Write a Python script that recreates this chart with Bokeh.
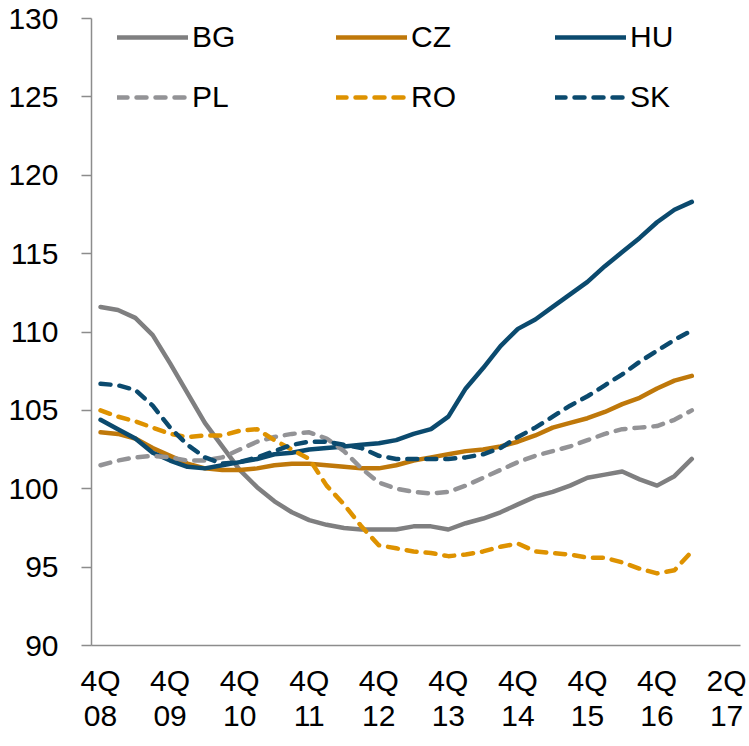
from bokeh.plotting import figure
from bokeh.models import FixedTicker, Legend, LegendItem, Range1d, LinearAxis
from bokeh.embed import file_html
from bokeh.resources import INLINE

# ---- data (quarterly index, 4Q08 .. 2Q17) ----
quarters = ["4Q08", "1Q09", "2Q09", "3Q09", "4Q09", "1Q10", "2Q10", "3Q10", "4Q10",
            "1Q11", "2Q11", "3Q11", "4Q11", "1Q12", "2Q12", "3Q12", "4Q12",
            "1Q13", "2Q13", "3Q13", "4Q13", "1Q14", "2Q14", "3Q14", "4Q14",
            "1Q15", "2Q15", "3Q15", "4Q15", "1Q16", "2Q16", "3Q16", "4Q16",
            "1Q17", "2Q17"]

BG = [111.6, 111.4, 110.9, 109.8, 108.0, 106.1, 104.2, 102.7, 101.2, 100.1, 99.2, 98.5,
      98.0, 97.7, 97.5, 97.4, 97.4, 97.4, 97.6, 97.6, 97.4, 97.8, 98.1, 98.5, 99.0,
      99.5, 99.8, 100.2, 100.7, 100.9, 101.1, 100.6, 100.2, 100.8, 101.9]
CZ = [103.6, 103.5, 103.2, 102.6, 102.1, 101.6, 101.3, 101.2, 101.2, 101.3, 101.5, 101.6,
      101.6, 101.5, 101.4, 101.3, 101.3, 101.5, 101.8, 102.0, 102.2, 102.4, 102.5, 102.7,
      103.0, 103.4, 103.9, 104.2, 104.5, 104.9, 105.4, 105.8, 106.4, 106.9, 107.2]
HU = [104.4, 103.8, 103.2, 102.3, 101.8, 101.4, 101.3, 101.5, 101.7, 101.9, 102.2, 102.3,
      102.5, 102.6, 102.7, 102.8, 102.9, 103.1, 103.5, 103.8, 104.6, 106.4, 107.7, 109.1,
      110.2, 110.8, 111.6, 112.4, 113.2, 114.2, 115.1, 116.0, 117.0, 117.8, 118.3]
PL = [101.5, 101.8, 102.0, 102.1, 102.0, 101.8, 101.8, 102.0, 102.5, 103.0, 103.3, 103.5,
      103.6, 103.2, 102.4, 101.3, 100.4, 100.0, 99.8, 99.7, 99.8, 100.2, 100.7, 101.2,
      101.7, 102.1, 102.4, 102.7, 103.1, 103.5, 103.8, 103.9, 104.0, 104.4, 105.0]
RO = [105.0, 104.6, 104.3, 103.9, 103.5, 103.3, 103.4, 103.4, 103.7, 103.8, 103.1, 102.5,
      101.9, 100.2, 99.0, 97.6, 96.4, 96.2, 96.0, 95.9, 95.7, 95.8, 96.0, 96.3, 96.5,
      96.0, 95.9, 95.8, 95.6, 95.6, 95.3, 94.9, 94.6, 94.8, 96.0]
SK = [106.7, 106.6, 106.3, 105.3, 103.9, 102.8, 102.0, 101.6, 101.7, 102.0, 102.4, 102.8,
      103.0, 103.0, 102.8, 102.6, 102.1, 101.9, 101.9, 101.9, 101.9, 102.0, 102.2, 102.6,
      103.3, 103.9, 104.6, 105.3, 105.9, 106.6, 107.3, 108.1, 108.8, 109.5, 110.1]

tick_pos = [0, 4, 8, 12, 16, 20, 24, 28, 32, 36]
tick_quarter = ["4Q", "4Q", "4Q", "4Q", "4Q", "4Q", "4Q", "4Q", "4Q", "2Q"]
tick_year = ["08", "09", "10", "11", "12", "13", "14", "15", "16", "17"]
y_ticks = [90, 95, 100, 105, 110, 115, 120, 125, 130]

series = [
    ("BG", BG, "#7F7F80", "solid"),
    ("CZ", CZ, "#BF780A", "solid"),
    ("HU", HU, "#0B4A6E", "solid"),
    ("PL", PL, "#939396", "10 9"),
    ("RO", RO, "#DE9200", "10 9"),
    ("SK", SK, "#0B4A6E", "10 9"),
]
# legend is filled column by column (2 rows x 3 columns)
legend_order = ["BG", "PL", "CZ", "RO", "HU", "SK"]

x = list(range(len(quarters)))

FONT = "Liberation Sans"
AXIS_GREY = "#8C8C8C"

p = figure(frame_width=649, frame_height=627, output_backend="svg",
           toolbar_location=None, x_range=Range1d(-0.52, 36.8),
           y_range=Range1d(90, 130))
p.min_border_left = 91
p.min_border_top = 18
p.min_border_right = 7
p.min_border_bottom = 91
p.outline_line_color = None
p.background_fill_color = "white"
p.xgrid.visible = False
p.ygrid.visible = False

# first row of x labels (quarter), with the axis line
p.xaxis.ticker = FixedTicker(ticks=tick_pos)
p.xaxis.major_label_overrides = {t: l for t, l in zip(tick_pos, tick_quarter)}
p.xaxis.major_tick_line_color = None
p.xaxis.minor_tick_line_color = None
p.xaxis.axis_line_color = AXIS_GREY
p.xaxis.axis_line_width = 1.5
p.xaxis.major_label_text_font = FONT
p.xaxis.major_label_text_font_size = "30px"
p.xaxis.major_label_text_color = "black"
p.xaxis.major_label_standoff = 12

# second row of x labels (year)
ax2 = LinearAxis(ticker=FixedTicker(ticks=tick_pos),
                 major_label_overrides={t: l for t, l in zip(tick_pos, tick_year)},
                 axis_line_color=None, major_tick_line_color=None,
                 minor_tick_line_color=None,
                 major_label_text_font=FONT, major_label_text_font_size="30px",
                 major_label_text_color="black", major_label_standoff=0)
p.add_layout(ax2, "below")

p.yaxis.ticker = FixedTicker(ticks=y_ticks)
p.yaxis.major_tick_out = 10
p.yaxis.major_tick_in = 0
p.yaxis.major_tick_line_color = AXIS_GREY
p.yaxis.major_tick_line_width = 1.5
p.yaxis.minor_tick_line_color = None
p.yaxis.axis_line_color = AXIS_GREY
p.yaxis.axis_line_width = 1.5
p.yaxis.major_label_text_font = FONT
p.yaxis.major_label_text_font_size = "30px"
p.yaxis.major_label_text_color = "black"
p.yaxis.major_label_standoff = 23

renderers = {}
for name, vals, color, dash in series:
    renderers[name] = p.line(x, vals, line_color=color, line_width=4.5, line_dash=dash,
                             line_cap="round", line_join="round")

items = [LegendItem(label=n, renderers=[renderers[n]]) for n in legend_order]

legend = Legend(items=items, ncols=3, location=(26, 531),
                glyph_width=71, glyph_height=30, label_height=30, label_width=118,
                label_standoff=4, spacing=26, padding=0, margin=0,
                border_line_color=None, background_fill_alpha=0,
                label_text_font=FONT, label_text_font_size="30px",
                label_text_color="black")
p.add_layout(legend, "center")

open("out.html", "w").write(file_html(p, INLINE))
